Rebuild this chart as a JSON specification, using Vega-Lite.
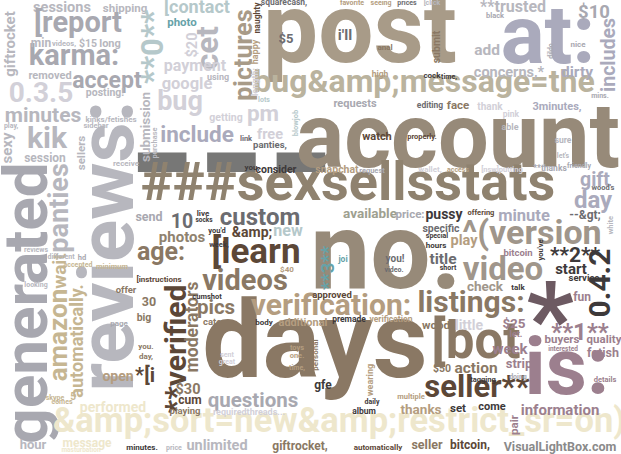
{
  "$schema": "https://vega.github.io/schema/vega-lite/v6.json",
  "width": 621,
  "height": 454,
  "padding": 0,
  "autosize": {"type": "none"},
  "background": "white",
  "view": {"stroke": null},
  "data": {
    "values": [
      {"word": "---", "x": 232, "y": 216, "weight": 176, "tone": "slate", "vertical": 0},
      {"word": "post", "x": 360, "y": 62, "weight": 98, "tone": "tan", "vertical": 0},
      {"word": "at:", "x": 548, "y": 63, "weight": 82, "tone": "lavender", "vertical": 0},
      {"word": "bug&amp;message=the", "x": 424, "y": 92, "weight": 32, "tone": "wheat", "vertical": 0},
      {"word": "account", "x": 458, "y": 167, "weight": 90, "tone": "taupe", "vertical": 0},
      {"word": "###sexsellsstats", "x": 348, "y": 200, "weight": 54, "tone": "umber", "vertical": 0},
      {"word": "no.", "x": 386, "y": 288, "weight": 107, "tone": "taupe", "vertical": 0},
      {"word": "days", "x": 315, "y": 377, "weight": 107, "tone": "brown", "vertical": 0},
      {"word": "is:", "x": 567, "y": 394, "weight": 80, "tone": "mauve", "vertical": 0},
      {"word": "*", "x": 550, "y": 355, "weight": 104, "tone": "plum", "vertical": 0},
      {"word": "reviews:", "x": 133, "y": 246, "weight": 78, "tone": "grey", "vertical": 1},
      {"word": "generated", "x": 47, "y": 303, "weight": 62, "tone": "grey2", "vertical": 1},
      {"word": "&amp;sort=new&amp;restrict_sr=on)", "x": 339, "y": 432, "weight": 34.5, "tone": "cream", "vertical": 0},
      {"word": "verification:", "x": 331, "y": 315, "weight": 30, "tone": "sand", "vertical": 0},
      {"word": "listings:", "x": 471, "y": 312, "weight": 30, "tone": "brown", "vertical": 0},
      {"word": "[bot", "x": 476, "y": 358, "weight": 51, "tone": "brown", "vertical": 0},
      {"word": "seller**", "x": 477, "y": 397, "weight": 31, "tone": "darkbrown", "vertical": 0},
      {"word": "video", "x": 503, "y": 280, "weight": 33, "tone": "stone", "vertical": 0},
      {"word": "^(version", "x": 532, "y": 244, "weight": 34, "tone": "stone", "vertical": 0},
      {"word": "0.4.2", "x": 610, "y": 283, "weight": 30, "tone": "dark", "vertical": 1},
      {"word": "**1**", "x": 580, "y": 340, "weight": 24, "tone": "mauve", "vertical": 0},
      {"word": "**2**", "x": 575, "y": 262, "weight": 21, "tone": "dark", "vertical": 0},
      {"word": "start", "x": 571, "y": 274, "weight": 15, "tone": "dark", "vertical": 0},
      {"word": "custom", "x": 260, "y": 225, "weight": 24, "tone": "ash", "vertical": 0},
      {"word": "age:", "x": 161, "y": 260, "weight": 25, "tone": "brown", "vertical": 0},
      {"word": "[learn", "x": 256, "y": 263, "weight": 35, "tone": "darkbrown", "vertical": 0},
      {"word": "videos", "x": 245, "y": 290, "weight": 29, "tone": "brown", "vertical": 0},
      {"word": "**verified", "x": 186, "y": 349, "weight": 30, "tone": "darkbrown", "vertical": 1},
      {"word": "moderators", "x": 198, "y": 327, "weight": 17.5, "tone": "brown", "vertical": 1},
      {"word": "pics", "x": 216, "y": 314, "weight": 20.5, "tone": "brown", "vertical": 0},
      {"word": "amazon", "x": 67, "y": 335, "weight": 26, "tone": "khaki", "vertical": 1},
      {"word": "wait", "x": 66, "y": 271, "weight": 19, "tone": "khaki", "vertical": 1},
      {"word": "automatically.", "x": 83, "y": 341, "weight": 18, "tone": "khaki", "vertical": 1},
      {"word": "questions", "x": 253, "y": 407, "weight": 20.5, "tone": "grey2", "vertical": 0},
      {"word": "information", "x": 560, "y": 415, "weight": 15, "tone": "mauve", "vertical": 0},
      {"word": "thanks", "x": 421, "y": 414, "weight": 13.5, "tone": "sand", "vertical": 0},
      {"word": "performed", "x": 113, "y": 412, "weight": 14, "tone": "cream", "vertical": 0},
      {"word": "hour", "x": 33, "y": 449, "weight": 13, "tone": "grey", "vertical": 0},
      {"word": "unlimited", "x": 217, "y": 450, "weight": 14.5, "tone": "grey", "vertical": 0},
      {"word": "message", "x": 87, "y": 447, "weight": 12, "tone": "cream", "vertical": 0},
      {"word": "giftrocket,", "x": 300, "y": 450, "weight": 12, "tone": "brown", "vertical": 0},
      {"word": "seller", "x": 427, "y": 449, "weight": 12.5, "tone": "brown", "vertical": 0},
      {"word": "bitcoin,", "x": 470, "y": 449, "weight": 12, "tone": "darkbrown", "vertical": 0},
      {"word": "automatically", "x": 378, "y": 450, "weight": 8, "tone": "darkbrown", "vertical": 0},
      {"word": "VisualLightBox.com", "x": 560, "y": 451, "weight": 12.5, "tone": "mark", "vertical": 0},
      {"word": "sessions", "x": 62, "y": 12, "weight": 14.5, "tone": "grey", "vertical": 0},
      {"word": "shipping", "x": 125, "y": 12, "weight": 11.5, "tone": "grey", "vertical": 0},
      {"word": "[contact", "x": 197, "y": 13, "weight": 18, "tone": "mist", "vertical": 0},
      {"word": "[report", "x": 78, "y": 32, "weight": 29, "tone": "grey2", "vertical": 0},
      {"word": "giftrocket", "x": 15, "y": 44, "weight": 15, "tone": "grey", "vertical": 1},
      {"word": "karma:", "x": 74, "y": 65, "weight": 29, "tone": "grey2", "vertical": 0},
      {"word": "accept", "x": 107, "y": 88, "weight": 23, "tone": "grey2", "vertical": 0},
      {"word": "0.3.5", "x": 41, "y": 102, "weight": 28, "tone": "pale", "vertical": 0},
      {"word": "minutes", "x": 43, "y": 122, "weight": 21, "tone": "grey", "vertical": 0},
      {"word": "kik", "x": 47, "y": 148, "weight": 30, "tone": "grey", "vertical": 0},
      {"word": "session", "x": 45, "y": 162, "weight": 12, "tone": "grey", "vertical": 0},
      {"word": "removed", "x": 50, "y": 79, "weight": 11, "tone": "grey", "vertical": 0},
      {"word": "min", "x": 41, "y": 47, "weight": 12, "tone": "grey", "vertical": 0},
      {"word": "videos,", "x": 64, "y": 46, "weight": 7.5, "tone": "grey", "vertical": 0},
      {"word": "$15", "x": 88, "y": 47, "weight": 10.5, "tone": "grey", "vertical": 0},
      {"word": "long", "x": 110, "y": 47, "weight": 11, "tone": "grey", "vertical": 0},
      {"word": "posting!", "x": 105, "y": 96, "weight": 10.5, "tone": "grey", "vertical": 0},
      {"word": "kinks/fetishes", "x": 111, "y": 122, "weight": 8, "tone": "grey", "vertical": 0},
      {"word": "sidebar", "x": 96, "y": 128, "weight": 7.5, "tone": "grey", "vertical": 0},
      {"word": "play,", "x": 11, "y": 128, "weight": 7, "tone": "grey", "vertical": 0},
      {"word": "sexy", "x": 12, "y": 148, "weight": 15, "tone": "grey", "vertical": 1},
      {"word": "sellers", "x": 85, "y": 153, "weight": 11.5, "tone": "grey", "vertical": 1},
      {"word": "receive", "x": 126, "y": 166, "weight": 8, "tone": "grey", "vertical": 0},
      {"word": "submission", "x": 150, "y": 127, "weight": 13.5, "tone": "grey", "vertical": 1},
      {"word": "purchase", "x": 157, "y": 143, "weight": 7.5, "tone": "grey", "vertical": 1},
      {"word": "panties", "x": 68, "y": 208, "weight": 27, "tone": "grey", "vertical": 1},
      {"word": "**0**", "x": 163, "y": 47, "weight": 31, "tone": "mist", "vertical": 1},
      {"word": "pictures", "x": 252, "y": 55, "weight": 25, "tone": "tan", "vertical": 1},
      {"word": "cet", "x": 218, "y": 48, "weight": 31, "tone": "grey", "vertical": 1},
      {"word": "$20", "x": 197, "y": 45, "weight": 14.5, "tone": "pale", "vertical": 1},
      {"word": "photo", "x": 182, "y": 26, "weight": 11.5, "tone": "teal", "vertical": 0},
      {"word": "payment", "x": 195, "y": 71, "weight": 16, "tone": "pale", "vertical": 0},
      {"word": "google", "x": 187, "y": 89, "weight": 16.5, "tone": "pale", "vertical": 0},
      {"word": "using", "x": 218, "y": 80, "weight": 9, "tone": "grey", "vertical": 0},
      {"word": "bug", "x": 180, "y": 110, "weight": 27, "tone": "pale", "vertical": 0},
      {"word": "include", "x": 197, "y": 142, "weight": 22.5, "tone": "lavender", "vertical": 0},
      {"word": "getting", "x": 226, "y": 121, "weight": 10.5, "tone": "pale", "vertical": 0},
      {"word": "pm", "x": 263, "y": 121, "weight": 22.5, "tone": "pale", "vertical": 0},
      {"word": "free", "x": 270, "y": 139, "weight": 14.5, "tone": "pale", "vertical": 0},
      {"word": "panties,", "x": 270, "y": 148, "weight": 9.5, "tone": "ash", "vertical": 0},
      {"word": "link", "x": 246, "y": 141, "weight": 7.5, "tone": "ash", "vertical": 0},
      {"word": "naughty", "x": 260, "y": 18, "weight": 8.5, "tone": "darkbrown", "vertical": 1},
      {"word": "happy", "x": 258, "y": 52, "weight": 9, "tone": "sand", "vertical": 1},
      {"word": "length:", "x": 258, "y": 82, "weight": 9, "tone": "pale", "vertical": 1},
      {"word": "squarecash,", "x": 284, "y": 5, "weight": 8.5, "tone": "ash", "vertical": 0},
      {"word": "$5", "x": 286, "y": 43, "weight": 13, "tone": "ash", "vertical": 0},
      {"word": "blowjob", "x": 298, "y": 123, "weight": 7.5, "tone": "mist", "vertical": 1},
      {"word": "lots", "x": 264, "y": 102, "weight": 7, "tone": "mist", "vertical": 0},
      {"word": "**trusted", "x": 513, "y": 12, "weight": 16, "tone": "grey", "vertical": 0},
      {"word": "$10", "x": 594, "y": 18, "weight": 18.5, "tone": "grey2", "vertical": 0},
      {"word": "includes", "x": 615, "y": 55, "weight": 19.5, "tone": "lavender", "vertical": 1},
      {"word": "add", "x": 487, "y": 55, "weight": 15.5, "tone": "grey", "vertical": 0},
      {"word": "concerns,*", "x": 509, "y": 77, "weight": 14.5, "tone": "grey", "vertical": 0},
      {"word": "dirty", "x": 577, "y": 77, "weight": 15.5, "tone": "lavender", "vertical": 0},
      {"word": "3minutes,", "x": 557, "y": 110, "weight": 11, "tone": "lavender", "vertical": 0},
      {"word": "thank", "x": 490, "y": 110, "weight": 10, "tone": "pale", "vertical": 0},
      {"word": "face", "x": 458, "y": 109, "weight": 11.5, "tone": "brown", "vertical": 0},
      {"word": "editing", "x": 430, "y": 108, "weight": 8.5, "tone": "ash", "vertical": 0},
      {"word": "requests", "x": 355, "y": 107, "weight": 11, "tone": "grey2", "vertical": 0},
      {"word": "watch", "x": 377, "y": 140, "weight": 11, "tone": "darkbrown", "vertical": 0},
      {"word": "properly.", "x": 422, "y": 139, "weight": 7.5, "tone": "darkbrown", "vertical": 0},
      {"word": "submit", "x": 440, "y": 47, "weight": 10.5, "tone": "brown", "vertical": 1},
      {"word": "i'll", "x": 345, "y": 40, "weight": 15, "tone": "ash", "vertical": 0},
      {"word": "anal", "x": 385, "y": 50, "weight": 8, "tone": "brown", "vertical": 0},
      {"word": "high", "x": 380, "y": 77, "weight": 8.5, "tone": "sand", "vertical": 0},
      {"word": "cock", "x": 432, "y": 78, "weight": 8, "tone": "dark", "vertical": 0},
      {"word": "time,", "x": 449, "y": 79, "weight": 7, "tone": "dark", "vertical": 0},
      {"word": "favorite", "x": 352, "y": 5, "weight": 7, "tone": "sand", "vertical": 0},
      {"word": "seeing", "x": 381, "y": 5, "weight": 7, "tone": "sand", "vertical": 0},
      {"word": "prices", "x": 407, "y": 5, "weight": 7, "tone": "ash", "vertical": 0},
      {"word": "[click", "x": 432, "y": 5, "weight": 7, "tone": "grey", "vertical": 0},
      {"word": "gift", "x": 595, "y": 186, "weight": 19.5, "tone": "lavender", "vertical": 0},
      {"word": "day", "x": 593, "y": 208, "weight": 24, "tone": "lavender", "vertical": 0},
      {"word": "minute", "x": 524, "y": 221, "weight": 16.5, "tone": "lavender", "vertical": 0},
      {"word": "--&gt;", "x": 585, "y": 219, "weight": 12, "tone": "ash", "vertical": 0},
      {"word": "available", "x": 370, "y": 218, "weight": 13.5, "tone": "sage", "vertical": 0},
      {"word": "price:", "x": 410, "y": 218, "weight": 11.5, "tone": "grey2", "vertical": 0},
      {"word": "pussy", "x": 444, "y": 219, "weight": 14, "tone": "dark", "vertical": 0},
      {"word": "offering", "x": 481, "y": 215, "weight": 7.5, "tone": "darkbrown", "vertical": 0},
      {"word": "snapchat", "x": 337, "y": 173, "weight": 10.5, "tone": "sand", "vertical": 0},
      {"word": "request", "x": 372, "y": 173, "weight": 7.5, "tone": "grey2", "vertical": 0},
      {"word": "consider", "x": 276, "y": 173, "weight": 10.5, "tone": "dark", "vertical": 0},
      {"word": "you,", "x": 252, "y": 170, "weight": 8, "tone": "dark", "vertical": 0},
      {"word": "photos", "x": 182, "y": 242, "weight": 15, "tone": "umber", "vertical": 0},
      {"word": "send", "x": 149, "y": 221, "weight": 12.5, "tone": "grey2", "vertical": 0},
      {"word": "10", "x": 182, "y": 228, "weight": 19.5, "tone": "ash", "vertical": 0},
      {"word": "live", "x": 203, "y": 216, "weight": 8, "tone": "dark", "vertical": 0},
      {"word": "socks", "x": 204, "y": 222, "weight": 6.5, "tone": "dark", "vertical": 0},
      {"word": "you'd", "x": 217, "y": 233, "weight": 7.5, "tone": "dark", "vertical": 0},
      {"word": "week,", "x": 219, "y": 247, "weight": 7.5, "tone": "dark", "vertical": 0},
      {"word": "&amp;", "x": 252, "y": 237, "weight": 14, "tone": "darkbrown", "vertical": 0},
      {"word": "new", "x": 288, "y": 236, "weight": 16, "tone": "mist", "vertical": 0},
      {"word": "specific", "x": 441, "y": 232, "weight": 10.5, "tone": "ash", "vertical": 0},
      {"word": "special", "x": 437, "y": 238, "weight": 7, "tone": "dark", "vertical": 0},
      {"word": "hours", "x": 436, "y": 248, "weight": 8, "tone": "dark", "vertical": 0},
      {"word": "play", "x": 464, "y": 245, "weight": 14.5, "tone": "sand", "vertical": 0},
      {"word": "title", "x": 443, "y": 264, "weight": 15.5, "tone": "ash", "vertical": 0},
      {"word": "short", "x": 448, "y": 270, "weight": 7, "tone": "dark", "vertical": 0},
      {"word": "bitcoin", "x": 518, "y": 256, "weight": 9.5, "tone": "mauve", "vertical": 0},
      {"word": "you've", "x": 543, "y": 250, "weight": 7.5, "tone": "dark", "vertical": 1},
      {"word": "service", "x": 584, "y": 281, "weight": 9.5, "tone": "dark", "vertical": 0},
      {"word": "check", "x": 485, "y": 291, "weight": 13.5, "tone": "stone", "vertical": 0},
      {"word": "talk", "x": 518, "y": 290, "weight": 8, "tone": "dark", "vertical": 0},
      {"word": "fun", "x": 582, "y": 301, "weight": 12, "tone": "mauve", "vertical": 0},
      {"word": "wood", "x": 436, "y": 329, "weight": 11.5, "tone": "brown", "vertical": 0},
      {"word": "little", "x": 469, "y": 330, "weight": 14, "tone": "pale", "vertical": 0},
      {"word": "$25", "x": 514, "y": 328, "weight": 13.5, "tone": "mauve", "vertical": 0},
      {"word": "let.", "x": 516, "y": 337, "weight": 9, "tone": "mauve", "vertical": 0},
      {"word": "week", "x": 510, "y": 354, "weight": 15, "tone": "mauve", "vertical": 0},
      {"word": "buyers", "x": 562, "y": 343, "weight": 11.5, "tone": "mauve", "vertical": 0},
      {"word": "quality", "x": 604, "y": 343, "weight": 11.5, "tone": "mauve", "vertical": 0},
      {"word": "interested", "x": 563, "y": 351, "weight": 6.5, "tone": "mauve", "vertical": 0},
      {"word": "fetish", "x": 603, "y": 357, "weight": 12.5, "tone": "mauve", "vertical": 0},
      {"word": "$50", "x": 442, "y": 372, "weight": 10.5, "tone": "brown", "vertical": 0},
      {"word": "action", "x": 476, "y": 373, "weight": 15.5, "tone": "brown", "vertical": 0},
      {"word": "strip", "x": 519, "y": 368, "weight": 13, "tone": "mauve", "vertical": 0},
      {"word": "doing", "x": 518, "y": 379, "weight": 7, "tone": "grey2", "vertical": 0},
      {"word": "tagging", "x": 483, "y": 382, "weight": 7.5, "tone": "dark", "vertical": 0},
      {"word": "details", "x": 605, "y": 382, "weight": 7.5, "tone": "mauve", "vertical": 0},
      {"word": "gfe", "x": 323, "y": 389, "weight": 12, "tone": "dark", "vertical": 0},
      {"word": "personal", "x": 318, "y": 355, "weight": 8, "tone": "brown", "vertical": 1},
      {"word": "wearing", "x": 373, "y": 380, "weight": 9, "tone": "sand", "vertical": 1},
      {"word": "multiple", "x": 411, "y": 399, "weight": 7.5, "tone": "sand", "vertical": 0},
      {"word": "daily", "x": 372, "y": 404, "weight": 7, "tone": "dark", "vertical": 0},
      {"word": "album", "x": 364, "y": 414, "weight": 8.5, "tone": "dark", "vertical": 0},
      {"word": "premade", "x": 349, "y": 322, "weight": 8.5, "tone": "dark", "vertical": 0},
      {"word": "verification", "x": 391, "y": 322, "weight": 8.5, "tone": "sand", "vertical": 0},
      {"word": "approved", "x": 332, "y": 298, "weight": 9.5, "tone": "darkbrown", "vertical": 0},
      {"word": "**3**", "x": 334, "y": 268, "weight": 18.5, "tone": "teal", "vertical": 1},
      {"word": "joi", "x": 343, "y": 262, "weight": 8.5, "tone": "teal", "vertical": 0},
      {"word": "you!", "x": 395, "y": 262, "weight": 10, "tone": "ash", "vertical": 0},
      {"word": "video.", "x": 394, "y": 272, "weight": 7, "tone": "ash", "vertical": 0},
      {"word": "set", "x": 458, "y": 412, "weight": 11.5, "tone": "dark", "vertical": 0},
      {"word": "come", "x": 492, "y": 410, "weight": 11, "tone": "dark", "vertical": 0},
      {"word": "pair", "x": 518, "y": 425, "weight": 11.5, "tone": "mauve", "vertical": 1},
      {"word": "$30", "x": 188, "y": 394, "weight": 14.5, "tone": "brown", "vertical": 0},
      {"word": "cum", "x": 190, "y": 404, "weight": 12, "tone": "darkbrown", "vertical": 0},
      {"word": "playing", "x": 185, "y": 414, "weight": 9.5, "tone": "brown", "vertical": 0},
      {"word": "open", "x": 118, "y": 381, "weight": 14, "tone": "sand", "vertical": 0},
      {"word": "*[i", "x": 145, "y": 382, "weight": 20, "tone": "darkbrown", "vertical": 0},
      {"word": "30", "x": 149, "y": 306, "weight": 12.5, "tone": "brown", "vertical": 0},
      {"word": "offer", "x": 126, "y": 293, "weight": 9.5, "tone": "brown", "vertical": 0},
      {"word": "big", "x": 144, "y": 321, "weight": 10.5, "tone": "brown", "vertical": 0},
      {"word": "you.", "x": 146, "y": 349, "weight": 8, "tone": "brown", "vertical": 0},
      {"word": "day,", "x": 146, "y": 359, "weight": 8, "tone": "brown", "vertical": 0},
      {"word": "[instructions", "x": 159, "y": 282, "weight": 8, "tone": "darkbrown", "vertical": 0},
      {"word": "cumshot", "x": 207, "y": 299, "weight": 7.5, "tone": "dark", "vertical": 0},
      {"word": "cater", "x": 214, "y": 325, "weight": 9.5, "tone": "brown", "vertical": 0},
      {"word": "body", "x": 264, "y": 325, "weight": 8, "tone": "dark", "vertical": 0},
      {"word": "additional", "x": 303, "y": 326, "weight": 11, "tone": "sand", "vertical": 0},
      {"word": "sent", "x": 227, "y": 357, "weight": 7, "tone": "pale", "vertical": 0},
      {"word": "great", "x": 227, "y": 364, "weight": 7, "tone": "pale", "vertical": 0},
      {"word": "toys", "x": 297, "y": 350, "weight": 7.5, "tone": "sand", "vertical": 0},
      {"word": "one.", "x": 297, "y": 358, "weight": 7.5, "tone": "sand", "vertical": 0},
      {"word": "time,", "x": 297, "y": 370, "weight": 7, "tone": "sand", "vertical": 0},
      {"word": "$40", "x": 287, "y": 272, "weight": 8, "tone": "sand", "vertical": 0},
      {"word": "looking", "x": 36, "y": 287, "weight": 7, "tone": "grey", "vertical": 0},
      {"word": "reviews", "x": 36, "y": 252, "weight": 7, "tone": "grey", "vertical": 0},
      {"word": "different", "x": 61, "y": 259, "weight": 7, "tone": "grey", "vertical": 0},
      {"word": "hd", "x": 82, "y": 260, "weight": 7.5, "tone": "grey2", "vertical": 0},
      {"word": "accepted", "x": 78, "y": 267, "weight": 7, "tone": "khaki", "vertical": 0},
      {"word": "minimum", "x": 112, "y": 269, "weight": 7.5, "tone": "khaki", "vertical": 0},
      {"word": "skype", "x": 55, "y": 400, "weight": 7, "tone": "khaki", "vertical": 0},
      {"word": "5", "x": 73, "y": 400, "weight": 10, "tone": "khaki", "vertical": 0},
      {"word": "comes", "x": 62, "y": 404, "weight": 7, "tone": "khaki", "vertical": 0},
      {"word": "page", "x": 119, "y": 326, "weight": 8, "tone": "grey2", "vertical": 0},
      {"word": "requiredthreads...", "x": 249, "y": 415, "weight": 9, "tone": "pale", "vertical": 0},
      {"word": "minutes.", "x": 142, "y": 450, "weight": 8, "tone": "dark", "vertical": 0},
      {"word": "masturbation", "x": 81, "y": 452, "weight": 6.5, "tone": "cream", "vertical": 0},
      {"word": "price", "x": 174, "y": 450, "weight": 7, "tone": "grey", "vertical": 0},
      {"word": "wallet,", "x": 430, "y": 172, "weight": 8, "tone": "pale", "vertical": 0},
      {"word": "access", "x": 458, "y": 172, "weight": 7, "tone": "sand", "vertical": 0},
      {"word": "[nsw]putting", "x": 502, "y": 172, "weight": 7.5, "tone": "pale", "vertical": 0},
      {"word": "**thanks", "x": 550, "y": 171, "weight": 8.5, "tone": "grey2", "vertical": 0},
      {"word": "friendly", "x": 579, "y": 168, "weight": 7, "tone": "grey2", "vertical": 0},
      {"word": "wood's", "x": 603, "y": 190, "weight": 7.5, "tone": "ash", "vertical": 0},
      {"word": "white", "x": 613, "y": 225, "weight": 7.5, "tone": "grey", "vertical": 1},
      {"word": "let's", "x": 563, "y": 158, "weight": 7, "tone": "grey", "vertical": 0},
      {"word": "sure", "x": 563, "y": 143, "weight": 8.5, "tone": "grey", "vertical": 0},
      {"word": "able", "x": 510, "y": 130, "weight": 9, "tone": "grey", "vertical": 0},
      {"word": "pink", "x": 511, "y": 117, "weight": 8.5, "tone": "pale", "vertical": 0},
      {"word": "black", "x": 495, "y": 18, "weight": 7.5, "tone": "grey2", "vertical": 0},
      {"word": "dildo", "x": 553, "y": 51, "weight": 7, "tone": "grey2", "vertical": 1},
      {"word": "nice", "x": 578, "y": 47, "weight": 8, "tone": "grey2", "vertical": 0},
      {"word": "mins.", "x": 600, "y": 98, "weight": 7, "tone": "grey2", "vertical": 0}
    ]
  },
  "mark": {
    "type": "text",
    "font": "Roboto",
    "fontWeight": "bold",
    "align": "center",
    "baseline": "alphabetic"
  },
  "encoding": {
    "x": {"field": "x", "type": "quantitative", "scale": {"domain": [0, 621]}, "axis": null},
    "y": {"field": "y", "type": "quantitative", "scale": {"domain": [0, 454], "reverse": true}, "axis": null},
    "text": {"field": "word", "type": "nominal"},
    "size": {"field": "weight", "type": "quantitative", "scale": {"type": "linear", "domain": [0, 200], "range": [0, 200]}, "legend": null},
    "angle": {"field": "vertical", "type": "quantitative", "scale": {"domain": [0, 1], "range": [0, 270]}, "legend": null},
    "color": {
      "field": "tone",
      "type": "nominal",
      "scale": {
        "domain": ["grey", "grey2", "pale", "tan", "taupe", "umber", "brown", "darkbrown", "mauve", "plum", "dark", "ash", "cream", "khaki", "mist", "lavender", "slate", "sand", "stone", "teal", "mark", "wheat", "sage"],
        "range": ["#b7b7be", "#a8a8b0", "#d2d0d8", "#a89b88", "#978a79", "#8f826f", "#8a7864", "#5c4737", "#9c7f8e", "#6d5a62", "#3d393a", "#6c6c70", "#eee7cc", "#c6b692", "#b5c8ca", "#aaaabc", "#777776", "#b49d80", "#a0968b", "#66a2a8", "#8a8a8a", "#bab39e", "#9ea090"]
      },
      "legend": null
    }
  },
  "config": {}
}
